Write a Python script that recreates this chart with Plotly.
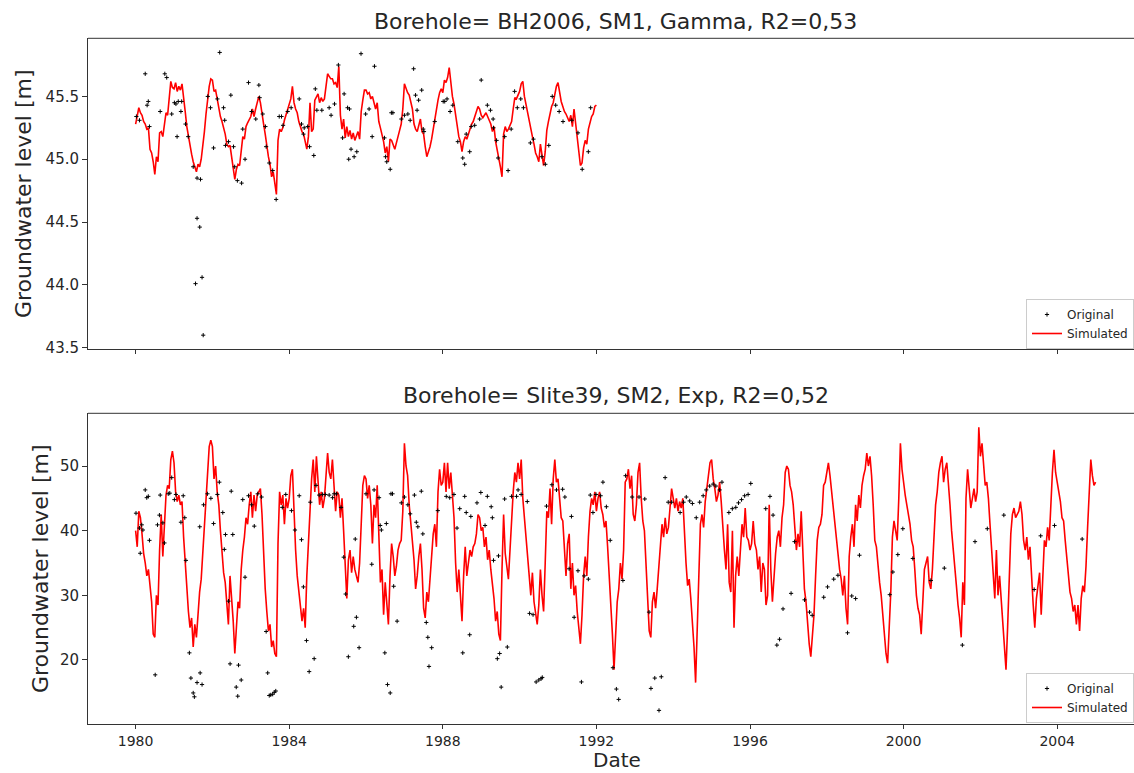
import plotly.graph_objects as go

# ---------------- data ----------------
step = 1.0 / 24.0  # half-monthly sampling of the simulated series

top_sim_start = 1980.0
top_sim = [
    # 1980
    45.28, 45.36, 45.41, 45.37, 45.35, 45.30, 45.28, 45.24, 45.25, 45.08, 45.05, 44.98,
    44.88, 45.02, 44.98, 45.21, 45.22, 45.18, 45.28, 45.37, 45.35, 45.46, 45.62, 45.57,
    # 1981
    45.56, 45.61, 45.54, 45.58, 45.55, 45.60, 45.46, 45.38, 45.26, 45.18, 45.12, 45.04,
    44.98, 44.94, 44.90, 44.96, 44.94, 45.00, 45.10, 45.22, 45.36, 45.48, 45.58, 45.64,
    # 1982
    45.63, 45.54, 45.55, 45.48, 45.40, 45.34, 45.30, 45.25, 45.20, 45.12, 45.10, 45.11,
    45.02, 44.90, 44.84, 44.92, 44.96, 44.95, 45.09, 45.18, 45.16, 45.26, 45.29, 45.32,
    # 1983
    45.34, 45.40, 45.34, 45.40, 45.45, 45.50, 45.45, 45.38, 45.28, 45.20, 45.10, 45.02,
    44.96, 44.86, 44.90, 44.80, 44.72, 45.15, 45.24, 45.22, 45.25, 45.31, 45.35, 45.39,
    # 1984
    45.43, 45.48, 45.58, 45.45, 45.40, 45.37, 45.30, 45.26, 45.22, 45.20, 45.14, 45.08,
    45.18, 45.45, 45.22, 45.24, 45.47, 45.50, 45.52, 45.45, 45.49, 45.46, 45.48, 45.58,
    # 1985
    45.68, 45.66, 45.64, 45.64, 45.60, 45.61, 45.57, 45.74, 45.35, 45.24, 45.32, 45.17,
    45.26, 45.18, 45.23, 45.16, 45.21, 45.15, 45.18, 45.22, 45.16, 45.38, 45.47, 45.55,
    # 1986
    45.55, 45.52, 45.53, 45.48, 45.50, 45.44, 45.40, 45.45, 45.30, 45.25, 45.20, 45.14,
    45.05, 45.10, 44.98, 45.16, 45.15, 45.12, 45.08, 45.13, 45.19, 45.23, 45.28, 45.40,
    # 1987
    45.60, 45.56, 45.53, 45.51, 45.45, 45.40, 45.28, 45.24, 45.22, 45.28, 45.32, 45.22,
    45.20, 45.10, 45.02, 45.06, 45.10, 45.16, 45.24, 45.33, 45.38, 45.47, 45.53, 45.56,
    # 1988
    45.53, 45.63, 45.61, 45.65, 45.73, 45.58, 45.50, 45.44, 45.36, 45.28, 45.18, 45.14,
    45.06, 45.14, 45.18, 45.16, 45.20, 45.23, 45.28, 45.30, 45.34, 45.37, 45.42, 45.40,
    # 1989
    45.35, 45.33, 45.35, 45.37, 45.34, 45.31, 45.28, 45.22, 45.26, 45.14, 45.08, 45.00,
    44.94, 44.86, 45.20, 45.26, 45.22, 45.24, 45.27, 45.30, 45.40, 45.49, 45.48, 45.51,
    # 1990
    45.54, 45.60, 45.62, 45.50, 45.43, 45.38, 45.30, 45.24, 45.18, 45.12, 45.05, 45.02,
    44.98, 45.12, 45.05, 44.95, 45.06, 45.23, 45.30, 45.37, 45.42, 45.45, 45.53, 45.58,
    # 1991
    45.61, 45.53, 45.46, 45.42, 45.38, 45.36, 45.33, 45.30, 45.35, 45.26, 45.40, 45.29,
    45.18, 45.10, 44.95, 44.97, 45.09, 45.15, 45.12, 45.24, 45.30, 45.34, 45.36, 45.42,
    # 1992.0
    45.43,
]

top_obs_year = [
    1980.02, 1980.10, 1980.25, 1980.30, 1980.33, 1980.36, 1980.64, 1980.76, 1980.81, 1980.94,
    1981.01, 1981.05, 1981.08, 1981.11, 1981.18, 1981.20, 1981.30, 1981.37, 1981.50, 1981.56,
    1981.60, 1981.60, 1981.67, 1981.69, 1981.73, 1981.76, 1981.88, 1981.95, 1982.03, 1982.13,
    1982.19, 1982.29, 1982.32, 1982.34, 1982.42, 1982.48, 1982.55, 1982.58, 1982.65, 1982.76,
    1982.79, 1982.85, 1982.94, 1983.02, 1983.13, 1983.21, 1983.23, 1983.31, 1983.38, 1983.40,
    1983.48, 1983.57, 1983.66, 1983.74, 1983.80, 1983.84, 1983.96, 1984.05, 1984.26, 1984.32,
    1984.37, 1984.39, 1984.48, 1984.53, 1984.64, 1984.68, 1984.72, 1984.85, 1985.04, 1985.09,
    1985.18, 1985.28, 1985.39, 1985.43, 1985.52, 1985.55, 1985.57, 1985.61, 1985.69, 1985.76,
    1985.87, 1985.99, 1986.08, 1986.16, 1986.22, 1986.48, 1986.51, 1986.54, 1986.63, 1986.66,
    1986.70, 1986.92, 1987.00, 1987.09, 1987.15, 1987.24, 1987.29, 1987.33, 1987.37, 1987.45,
    1987.49, 1987.51, 1987.79, 1988.01, 1988.05, 1988.11, 1988.19, 1988.26, 1988.39, 1988.52,
    1988.57, 1988.61, 1988.70, 1988.74, 1988.83, 1988.96, 1989.00, 1989.16, 1989.24, 1989.31,
    1989.32, 1989.40, 1989.44, 1989.61, 1989.70, 1989.78, 1989.87, 1989.94, 1990.03, 1990.10,
    1990.28, 1990.36, 1990.58, 1990.67, 1990.76, 1990.85, 1990.94, 1991.03, 1991.13, 1991.36,
    1991.52, 1991.63, 1991.79, 1991.85,
]
top_obs_value = [
    45.34, 45.31, 45.68, 45.43, 45.46, 45.26, 45.38, 45.68, 45.65, 45.36,
    45.45, 45.44, 45.18, 45.46, 45.38, 45.46, 45.28, 45.18, 44.94, 44.01,
    44.53, 44.85, 44.46, 44.84, 44.06, 43.60, 45.50, 45.41, 45.09, 45.48,
    45.85, 45.41, 45.31, 45.11, 45.14, 45.51, 45.10, 44.94, 44.83, 44.81,
    45.24, 45.00, 45.61, 45.38, 45.32, 45.59, 45.49, 45.36, 45.26, 45.10,
    44.97, 44.91, 44.68, 45.34, 45.34, 45.27, 45.38, 45.41, 45.48, 45.28,
    45.20, 45.25, 45.26, 45.10, 45.03, 45.56, 45.39, 45.39, 45.41, 45.35,
    45.44, 45.75, 45.17, 45.52, 45.41, 45.00, 45.40, 45.08, 45.02, 45.06,
    45.84, 45.36, 45.40, 45.18, 45.74, 45.17, 45.02, 44.98, 44.92, 45.37,
    45.37, 45.32, 45.35, 45.36, 45.31, 45.72, 45.51, 45.39, 45.47, 45.55,
    45.24, 45.22, 45.30, 45.46, 45.46, 45.48, 45.38, 45.43, 45.14, 45.01,
    44.96, 45.20, 45.06, 45.26, 45.27, 45.32, 45.63, 45.43, 45.39, 45.32,
    45.25, 45.15, 45.01, 45.18, 44.91, 45.24, 45.54, 45.41, 45.48, 45.41,
    45.13, 45.16, 45.02, 44.96, 45.11, 45.50, 45.43, 45.38, 45.30, 45.31,
    45.21, 44.92, 45.06, 45.41,
]

bot_sim_start = 1980.0
bot_sim = [
    # 1980
    40.0, 37.5, 43.0, 42.0, 39.5, 36.5, 35.0, 33.0, 34.0, 31.5, 29.0, 24.0,
    23.5, 30.0, 28.5, 37.0, 42.5, 36.0, 40.0, 45.5, 47.0, 46.5, 51.0, 52.3,
    # 1981
    50.5, 46.0, 44.5, 45.5, 44.0, 44.5, 39.0, 35.0, 30.0, 27.5, 25.0, 26.5,
    22.0, 25.5, 23.5, 28.0, 30.5, 32.5, 36.5, 40.0, 44.0, 49.5, 53.0, 54.0,
    # 1982
    53.0, 48.0, 50.0, 46.0, 44.0, 40.0, 37.0, 33.5, 32.0, 28.0, 25.5, 33.0,
    30.0, 26.0, 21.0, 25.5, 29.0, 28.0, 34.0, 37.0, 39.0, 42.0, 41.0, 44.0,
    # 1983
    46.0, 42.0, 45.5, 43.0, 45.5, 46.0, 46.5, 42.5, 36.0, 31.0, 27.5, 24.5,
    25.5, 22.0, 23.0, 21.0, 20.5, 38.0, 46.0, 44.0, 45.5, 41.0, 45.0, 43.5,
    # 1984
    45.0, 48.5, 49.5, 42.0, 37.0, 33.0, 30.5, 27.5, 26.0, 28.0, 25.0, 33.0,
    38.0, 45.0, 48.0, 51.0, 46.0, 51.5, 47.5, 44.0, 46.0, 43.5, 45.0, 49.0,
    # 1985
    52.0, 49.0, 48.0, 51.0, 46.0, 43.0, 46.0, 45.5, 42.0, 45.0, 40.0, 34.0,
    29.5, 35.5, 37.0, 33.5, 36.0, 34.0, 33.0, 32.0, 35.0, 41.0, 47.0, 48.5,
    # 1986
    48.0, 45.0, 47.0, 44.0, 38.0, 44.0, 42.0, 47.0, 38.0, 32.0, 34.0, 27.0,
    32.0, 28.0, 25.5, 33.0, 38.0, 36.0, 33.0, 34.5, 37.0, 38.0, 38.5, 43.0,
    # 1987
    53.5, 50.0, 48.5, 44.0, 41.5, 39.0, 35.5, 31.0, 33.0, 36.0, 38.0, 34.0,
    28.0, 26.5, 30.5, 29.0, 33.0, 36.5, 39.5, 41.0, 37.5, 46.0, 49.5, 47.0,
    # 1988
    47.5, 50.5, 46.0, 50.5, 46.5, 49.0, 45.5, 42.0, 35.0, 30.5, 34.0, 30.0,
    26.0, 33.0, 37.5, 33.0, 35.0, 37.0, 36.0, 37.5, 38.0, 39.5, 42.5, 42.0,
    # 1989
    40.0, 40.5, 37.5, 39.0, 35.5, 37.0, 34.0, 32.0, 29.5, 26.0, 27.5, 24.0,
    23.0, 34.0, 42.5, 36.5, 34.0, 32.5, 37.0, 42.0, 46.0, 49.0, 47.5, 50.5,
    # 1990
    48.0, 51.0, 45.0, 42.0, 38.5, 35.5, 33.0, 30.0, 33.5, 29.0, 27.0, 25.5,
    28.5, 34.0, 30.0, 27.5, 35.0, 43.0, 42.0, 46.5, 41.0, 48.0, 51.0, 47.5,
    # 1991
    48.0, 45.5, 42.0, 41.5, 36.0, 33.0, 38.0, 39.5, 31.0, 35.0, 30.0, 31.5,
    27.5, 25.0, 22.5, 27.0, 33.0, 36.0, 33.0, 39.0, 43.0, 45.0, 44.0, 46.0,
    # 1992
    43.0, 45.0, 46.0, 43.5, 42.5, 40.5, 41.5, 37.5, 33.5, 29.0, 24.0, 18.5,
    23.0, 29.0, 31.0, 35.0, 32.5, 37.0, 47.5, 48.0, 49.5, 46.5, 48.5, 42.5,
    # 1993
    41.5, 44.0, 49.0, 50.5, 45.0, 41.5, 40.0, 34.5, 27.5, 24.5, 23.5, 29.0,
    30.5, 28.0, 31.0, 34.5, 38.0, 41.0, 39.0, 42.0, 39.5, 40.5, 43.5, 46.5,
    # 1994
    45.0, 43.5, 45.0, 43.0, 44.5, 43.5, 45.0, 39.0, 35.0, 31.5, 32.5, 29.5,
    26.0, 22.0, 16.5, 25.0, 36.0, 41.0, 42.5, 40.5, 44.5, 46.5, 48.5, 50.5,
    # 1995
    51.0, 48.0, 46.5, 44.5, 45.5, 47.5, 44.5, 40.0, 37.0, 34.0, 41.0, 32.0,
    30.5, 40.0, 25.0, 33.0, 36.0, 33.0, 38.0, 41.0, 39.0, 43.5, 39.0, 38.5,
    # 1996
    37.0, 38.0, 41.5, 38.0, 37.0, 34.0, 36.0, 30.5, 35.0, 34.0, 28.5, 30.0,
    44.0, 34.0, 29.0, 33.0, 36.5, 39.0, 40.0, 37.5, 42.0, 44.0, 49.0, 50.0,
    # 1997
    49.5, 47.0, 46.0, 44.0, 40.5, 37.0, 39.5, 37.5, 43.0, 36.5, 31.0, 29.0,
    25.0, 22.5, 20.5, 24.5, 27.0, 33.0, 38.5, 40.5, 41.0, 42.5, 47.0, 47.5,
    # 1998
    49.0, 50.5, 48.5, 46.0, 43.5, 41.5, 39.5, 37.0, 34.0, 32.5, 30.0, 33.0,
    28.0, 25.5, 36.0, 39.0, 41.0, 37.5, 44.0, 41.5, 45.5, 43.5, 47.0, 48.5,
    # 1999
    49.5, 52.0, 50.0, 51.5, 48.5, 44.0, 38.5, 37.5, 34.0, 32.0, 30.0, 26.5,
    24.0, 21.0, 19.5, 25.0, 30.5, 39.0, 41.5, 40.0, 38.5, 45.0, 53.5, 49.5,
    # 2000
    47.0, 45.5, 44.0, 42.5, 41.0, 38.5, 37.5, 34.0, 30.0, 28.0, 27.0, 24.0,
    29.0, 34.0, 35.0, 36.0, 32.0, 31.0, 34.0, 40.0, 44.0, 46.0, 49.0, 50.5,
    # 2001
    51.5, 47.5, 49.5, 50.5, 47.5, 44.0, 40.0, 37.5, 34.5, 31.5, 28.5, 26.5,
    23.5, 32.0, 28.5, 45.0, 49.5, 47.0, 43.5, 45.0, 46.5, 44.5, 46.0, 56.0,
    # 2002
    51.5, 53.5, 49.5, 47.0, 47.5, 45.0, 41.0, 36.5, 32.5, 29.5, 37.0, 30.0,
    33.0, 29.5, 26.0, 21.0, 18.5, 25.0, 33.5, 39.5, 42.5, 43.5, 42.0, 42.5,
    # 2003
    43.0, 44.5, 42.5, 38.5, 37.0, 39.0, 35.5, 37.5, 32.5, 28.5, 25.0, 29.5,
    31.5, 33.5, 27.0, 34.0, 38.5, 37.5, 40.5, 38.5, 45.0, 49.0, 52.5, 49.0,
    # 2004
    47.5, 46.0, 44.5, 42.0, 41.5, 38.5, 36.0, 34.0, 30.5, 29.5, 27.5, 28.5,
    25.5, 28.5, 24.5, 29.5, 31.5, 30.5, 34.5, 40.5, 45.5, 51.0, 48.5, 47.0,
    # 2005.0
    47.5,
]

bot_obs_year = [
    1980.01, 1980.10, 1980.12, 1980.16, 1980.19, 1980.25, 1980.29, 1980.33, 1980.36, 1980.51,
    1980.57, 1980.62, 1980.64, 1980.71, 1980.75, 1980.85, 1980.89, 1980.94, 1981.01, 1981.05,
    1981.18, 1981.24, 1981.28, 1981.31, 1981.40, 1981.44, 1981.50, 1981.53, 1981.60, 1981.67,
    1981.68, 1981.73, 1981.77, 1981.87, 1981.96, 1982.03, 1982.13, 1982.18, 1982.27, 1982.31,
    1982.34, 1982.42, 1982.46, 1982.49, 1982.53, 1982.62, 1982.66, 1982.68, 1982.75, 1982.79,
    1982.85, 1982.94, 1983.02, 1983.09, 1983.18, 1983.28, 1983.40, 1983.44, 1983.48, 1983.52,
    1983.57, 1983.61, 1983.65, 1983.82, 1983.91, 1984.06, 1984.15, 1984.26, 1984.32, 1984.37,
    1984.45, 1984.52, 1984.55, 1984.65, 1984.70, 1984.78, 1984.87, 1984.94, 1985.04, 1985.13,
    1985.17, 1985.23, 1985.35, 1985.42, 1985.47, 1985.54, 1985.68, 1985.72, 1985.75, 1985.82,
    1986.00, 1986.15, 1986.21, 1986.34, 1986.37, 1986.40, 1986.49, 1986.53, 1986.56, 1986.63,
    1986.65, 1986.69, 1986.72, 1986.81, 1986.92, 1987.00, 1987.09, 1987.15, 1987.26, 1987.31,
    1987.35, 1987.44, 1987.48, 1987.57, 1987.61, 1987.64, 1987.71, 1987.87, 1988.09, 1988.18,
    1988.29, 1988.37, 1988.44, 1988.52, 1988.57, 1988.61, 1988.70, 1988.73, 1988.89, 1988.99,
    1989.10, 1989.16, 1989.26, 1989.29, 1989.32, 1989.42, 1989.45, 1989.48, 1989.52, 1989.61,
    1989.68, 1989.79, 1989.92, 1989.96, 1990.04, 1990.20, 1990.26, 1990.35, 1990.43, 1990.50,
    1990.56, 1990.59, 1990.70, 1990.84, 1990.96, 1991.12, 1991.18, 1991.29, 1991.35, 1991.42,
    1991.52, 1991.61, 1991.68, 1991.79, 1991.84, 1991.91, 1991.99, 1992.11, 1992.17, 1992.26,
    1992.36, 1992.43, 1992.52, 1992.58, 1992.69, 1992.76, 1992.93, 1993.11, 1993.26, 1993.37,
    1993.42, 1993.52, 1993.63, 1993.69, 1993.79, 1993.87, 1993.96, 1994.18, 1994.27, 1994.34,
    1994.43, 1994.50, 1994.60, 1994.69, 1994.78, 1994.86, 1994.95, 1995.04, 1995.11, 1995.21,
    1995.27, 1995.45, 1995.54, 1995.63, 1995.70, 1995.78, 1995.86, 1995.95, 1996.02, 1996.41,
    1996.52, 1996.60, 1996.70, 1996.77, 1996.86, 1997.07, 1997.16, 1997.42, 1997.55, 1997.62,
    1997.92, 1998.02, 1998.18, 1998.29, 1998.54, 1998.65, 1998.75, 1998.85, 1999.64, 1999.72,
    1999.85, 1999.98, 2000.24, 2000.71, 2001.06, 2001.53, 2001.86, 2002.18, 2002.61, 2003.40,
    2003.57, 2003.93, 2004.65,
]
bot_obs_value = [
    42.7, 40.4, 36.5, 40.9, 40.1, 46.3, 45.1, 45.3, 38.5, 17.7,
    40.9, 42.4, 45.5, 41.2, 38.1, 45.7, 45.8, 48.2, 44.8, 45.6,
    41.3, 45.4, 42.0, 35.4, 21.1, 17.2, 14.9, 14.3, 16.5, 40.6,
    18.0, 16.2, 44.0, 45.7, 45.0, 41.1, 45.6, 47.5, 42.8, 37.1,
    39.4, 29.1, 19.4, 46.1, 39.4, 15.8, 14.4, 19.2, 16.9, 44.8,
    32.8, 45.4, 44.0, 40.7, 45.7, 45.2, 24.4, 18.0, 14.5, 14.6,
    14.7, 15.0, 15.2, 43.6, 45.6, 43.1, 40.1, 45.4, 38.6, 31.3,
    23.0, 18.2, 44.4, 20.2, 47.0, 45.5, 45.6, 45.6, 45.5, 45.1,
    45.7, 45.7, 43.6, 35.9, 30.2, 20.5, 25.2, 38.7, 26.6, 21.9,
    45.7, 34.8, 46.3, 45.1, 40.8, 40.1, 21.1, 41.1, 16.2, 14.9,
    45.7, 45.7, 31.4, 26.0, 44.3, 45.2, 44.0, 42.6, 45.5, 41.3,
    40.6, 46.1, 39.5, 25.8, 23.5, 19.0, 21.9, 43.1, 45.3, 45.1,
    45.6, 40.4, 43.4, 21.1, 45.3, 42.8, 23.9, 42.2, 44.3, 45.9,
    40.8, 45.3, 43.7, 42.0, 35.4, 20.2, 36.1, 21.0, 15.8, 44.9,
    22.0, 45.3, 45.3, 46.3, 45.6, 44.5, 27.2, 27.0, 16.6, 16.9,
    17.1, 17.3, 43.8, 47.1, 46.3, 46.4, 45.2, 34.1, 42.2, 26.6,
    33.8, 16.6, 33.0, 32.5, 45.5, 42.8, 45.6, 45.4, 47.5, 43.7,
    38.5, 18.8, 15.5, 13.9, 32.3, 48.5, 45.2, 45.2, 44.9, 27.4,
    15.6, 17.2, 12.2, 17.4, 48.2, 44.4, 44.4, 42.8, 44.4, 45.2,
    44.6, 44.2, 42.0, 44.4, 45.4, 46.3, 46.9, 47.2, 46.9, 46.3,
    47.5, 42.8, 43.4, 43.6, 44.3, 44.8, 45.4, 45.6, 47.3, 43.4,
    45.3, 42.4, 22.3, 23.2, 27.9, 30.3, 38.3, 29.3, 27.4, 26.9,
    29.7, 31.3, 32.5, 33.1, 24.2, 29.9, 29.5, 36.2, 30.1, 33.6,
    36.3, 40.3, 35.7, 32.3, 34.2, 22.3, 38.3, 40.3, 42.4, 30.9,
    39.2, 40.8, 38.7,
]

year_ticks = [1980, 1984, 1988, 1992, 1996, 2000, 2004]
top_yticks = [43.5, 44.0, 44.5, 45.0, 45.5]
bot_yticks = [20, 30, 40, 50]

top_title = "Borehole= BH2006, SM1, Gamma, R2=0,53"
bot_title = "Borehole= Slite39, SM2, Exp, R2=0,52"
y_label = "Groundwater level [m]"
x_label = "Date"

# ---------------- figure ----------------
top_sim_x = [top_sim_start + i * step for i in range(len(top_sim))]
bot_sim_x = [bot_sim_start + i * step for i in range(len(bot_sim))]

FONT = "DejaVu Sans"
TXT = "#262626"
AX = "#333333"

fig = go.Figure()

marker_style = dict(symbol="cross-thin", size=3, color="black",
                    line=dict(color="black", width=1))

fig.add_trace(go.Scatter(x=top_sim_x, y=top_sim, mode="lines", name="Simulated",
                         line=dict(color="red", width=1.6), xaxis="x", yaxis="y",
                         legend="legend", legendrank=2))
fig.add_trace(go.Scatter(x=top_obs_year, y=top_obs_value, mode="markers", name="Original",
                         marker=marker_style, xaxis="x", yaxis="y",
                         legend="legend", legendrank=1))
fig.add_trace(go.Scatter(x=bot_sim_x, y=bot_sim, mode="lines", name="Simulated",
                         line=dict(color="red", width=1.6), xaxis="x2", yaxis="y2",
                         legend="legend2", legendrank=2))
fig.add_trace(go.Scatter(x=bot_obs_year, y=bot_obs_value, mode="markers", name="Original",
                         marker=marker_style, xaxis="x2", yaxis="y2",
                         legend="legend2", legendrank=1))

H = 773.0
W_PLOT = 1046.0
L = 88.0


def py(px):
    return (H - px) / H


def px_(x):
    return (x - L) / W_PLOT


xr = [1978.76, 2006.0]
common_x = dict(range=xr, tickmode="array", tickvals=year_ticks,
                ticktext=[str(v) for v in year_ticks], ticks="outside", ticklen=4,
                tickwidth=1, tickcolor=AX, showline=True, linecolor=AX, linewidth=1,
                showgrid=False, zeroline=False, automargin=False,
                tickfont=dict(family=FONT, size=14, color=TXT))
common_y = dict(ticks="outside", ticklen=5, tickwidth=1, tickcolor=AX, showline=True,
                linecolor=AX, linewidth=1, showgrid=False, zeroline=False, automargin=False,
                tickfont=dict(family=FONT, size=15, color=TXT), tickmode="array")

legend_common = dict(xanchor="right", yanchor="top", x=1.0,
                     bgcolor="white", bordercolor="#cccccc", borderwidth=1,
                     font=dict(family=FONT, size=12, color=TXT), tracegroupgap=0,
                     itemwidth=30)

fig.update_layout(
    width=1134, height=773, autosize=False,
    margin=dict(l=88, r=0, t=0, b=0, pad=0),
    paper_bgcolor="white", plot_bgcolor="white",
    font=dict(family=FONT, color=TXT),
    xaxis=dict(domain=[0, 1], anchor="y", showticklabels=False, **common_x),
    xaxis2=dict(domain=[0, 1], anchor="y2", showticklabels=True, **common_x),
    yaxis=dict(domain=[py(349.3), py(38.3)], anchor="x", range=[43.4875, 45.9625],
               tickvals=top_yticks, ticktext=["%.1f" % v for v in top_yticks], **common_y),
    yaxis2=dict(domain=[py(724.3), py(413.3)], anchor="x2", range=[10.05, 58.15],
                tickvals=bot_yticks, ticktext=[str(v) for v in bot_yticks], **common_y),
    legend=dict(y=py(299), **legend_common),
    legend2=dict(y=py(673), **legend_common),
    showlegend=True,
)

# top spines
for xa, ya in (("x", "y"), ("x2", "y2")):
    fig.add_shape(type="line", xref=xa + " domain", yref=ya + " domain",
                  x0=0, x1=1, y0=1, y1=1, line=dict(color=AX, width=1))

ann = [
    dict(text=top_title, x=px_(615.5), y=py(21), size=22, angle=0, ya="middle"),
    dict(text=bot_title, x=px_(615.5), y=py(396), size=22, angle=0, ya="middle"),
    dict(text=y_label, x=px_(23), y=py(194), size=22, angle=-90, ya="middle"),
    dict(text=y_label, x=px_(40), y=py(569), size=22, angle=-90, ya="middle"),
    dict(text=x_label, x=px_(617), y=0.0, size=20, angle=0, ya="bottom"),
]
for a in ann:
    fig.add_annotation(text=a["text"], x=a["x"], y=a["y"], xref="paper", yref="paper",
                       xanchor="center", yanchor=a["ya"], showarrow=False, borderpad=0,
                       textangle=a["angle"], font=dict(family=FONT, size=a["size"], color=TXT))

fig.write_html("out.html", config={"displayModeBar": False})
